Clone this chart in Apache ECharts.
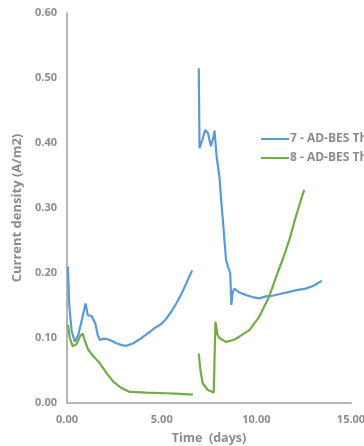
<!DOCTYPE html>
<html>
<head>
<meta charset="utf-8">
<style>
  html, body { margin: 0; padding: 0; background: #ffffff; }
  #chart { width: 364px; height: 446px; }
</style>
<script src="https://cdn.jsdelivr.net/npm/echarts@6/dist/echarts.min.js"></script>
</head>
<body>
<div id="chart"></div>
<script>
// Reactor 7: two runs (days, A/m2)
const r7DaysA = [0.05, 0.12, 0.25, 0.42, 0.6, 0.8, 0.98, 1.1, 1.2, 1.3, 1.4, 1.5, 1.62, 1.74, 1.95, 2.17, 2.4, 2.6, 2.9, 3.14, 3.5, 3.84, 4.3, 4.72, 5.0, 5.25, 5.5, 5.77, 6.05, 6.3, 6.61];
const r7CurrA = [0.21, 0.15, 0.11, 0.094, 0.105, 0.13, 0.153, 0.135, 0.132, 0.134, 0.128, 0.122, 0.105, 0.097, 0.099, 0.098, 0.095, 0.092, 0.089, 0.088, 0.092, 0.098, 0.108, 0.117, 0.122, 0.130, 0.140, 0.153, 0.168, 0.184, 0.204];
const r7DaysB = [6.96, 6.98, 7.0, 7.05, 7.15, 7.3, 7.45, 7.6, 7.67, 7.74, 7.79, 7.9, 8.05, 8.15, 8.23, 8.4, 8.5, 8.62, 8.68, 8.75, 8.84, 9.1, 9.46, 9.8, 10.16, 10.5, 10.86, 11.3, 11.74, 12.2, 12.6, 13.0, 13.46];
const r7CurrB = [0.515, 0.45, 0.392, 0.389, 0.405, 0.42, 0.415, 0.395, 0.393, 0.41, 0.419, 0.38, 0.348, 0.31, 0.282, 0.22, 0.21, 0.20, 0.151, 0.17, 0.176, 0.17, 0.166, 0.163, 0.161, 0.164, 0.165, 0.168, 0.171, 0.174, 0.176, 0.180, 0.188];

// Reactor 8: two runs (days, A/m2)
const r8DaysA = [0.05, 0.15, 0.3, 0.51, 0.7, 0.83, 0.95, 1.12, 1.39, 1.74, 2.09, 2.44, 2.88, 3.32, 4.19, 5.25, 5.95, 6.65];
const r8CurrA = [0.12, 0.10, 0.087, 0.091, 0.103, 0.107, 0.095, 0.082, 0.072, 0.061, 0.046, 0.033, 0.023, 0.017, 0.016, 0.015, 0.014, 0.013];
const r8DaysB = [6.96, 7.05, 7.17, 7.44, 7.75, 7.84, 7.95, 8.05, 8.4, 8.8, 9.1, 9.63, 10.16, 10.68, 11.12, 11.38, 11.56, 11.74, 12.09, 12.35, 12.53];
const r8CurrB = [0.076, 0.05, 0.03, 0.02, 0.016, 0.125, 0.105, 0.1, 0.094, 0.097, 0.102, 0.112, 0.133, 0.164, 0.2, 0.22, 0.235, 0.251, 0.287, 0.312, 0.328];

const seriesNames = ['7 - AD-BES Th', '8 - AD-BES Th'];
const xTitle = 'Time  (days)';
const yTitle = 'Current density (A/m2)';

// Join two runs into one line, with a gap between them
function joinRuns(daysA, currA, daysB, currB) {
  const out = daysA.map((d, i) => [d, currA[i]]);
  out.push(['-', '-']);
  daysB.forEach((d, i) => out.push([d, currB[i]]));
  return out;
}

const grey = '#8c8c8c';
const font = '"Open Sans", "DejaVu Sans", sans-serif';

const chart = echarts.init(document.getElementById('chart'), null, { renderer: 'canvas' });
chart.setOption({
  animation: false,
  backgroundColor: '#ffffff',
  grid: { left: 67, right: 13, top: 13, bottom: 43, outerBoundsMode: 'none', containLabel: false },
  legend: {
    left: 256,
    top: 128,
    orient: 'vertical',
    itemGap: 7,
    itemWidth: 28,
    itemHeight: 14,
    icon: 'path://M0,6 L28,6 L28,8 L0,8 Z',
    textStyle: { color: grey, fontFamily: font, fontWeight: 'bold', fontSize: 12, padding: [0, 0, 0, -4] },
    data: seriesNames
  },
  xAxis: {
    type: 'value',
    min: 0, max: 15, interval: 5,
    name: xTitle,
    nameLocation: 'middle',
    nameGap: 29,
    nameTextStyle: { color: grey, fontFamily: font, fontWeight: 'bold', fontSize: 12.5 },
    axisLine: { show: true, lineStyle: { color: '#b4b4b4', width: 2 } },
    axisTick: { show: false },
    splitLine: { show: false },
    axisLabel: { color: grey, fontFamily: font, fontWeight: 'bold', fontSize: 11, margin: 11,
      formatter: v => v.toFixed(2) }
  },
  yAxis: {
    type: 'value',
    min: 0, max: 0.6, interval: 0.1,
    name: yTitle,
    nameLocation: 'middle',
    nameGap: 36,
    nameTextStyle: { color: grey, fontFamily: font, fontWeight: 'bold', fontSize: 13 },
    axisLine: { show: true, lineStyle: { color: '#b4b4b4', width: 2 } },
    axisTick: { show: false },
    splitLine: { show: false },
    axisLabel: { color: grey, fontFamily: font, fontWeight: 'bold', fontSize: 11, margin: 10,
      formatter: v => v.toFixed(2) }
  },
  series: [
    {
      name: seriesNames[0], type: 'line', showSymbol: false, connectNulls: false,
      lineStyle: { color: '#5b9bd5', width: 2.2 }, itemStyle: { color: '#5b9bd5' },
      data: joinRuns(r7DaysA, r7CurrA, r7DaysB, r7CurrB)
    },
    {
      name: seriesNames[1], type: 'line', showSymbol: false, connectNulls: false,
      lineStyle: { color: '#70ad47', width: 2.2 }, itemStyle: { color: '#70ad47' },
      data: joinRuns(r8DaysA, r8CurrA, r8DaysB, r8CurrB)
    }
  ]
});
</script>
</body>
</html>
